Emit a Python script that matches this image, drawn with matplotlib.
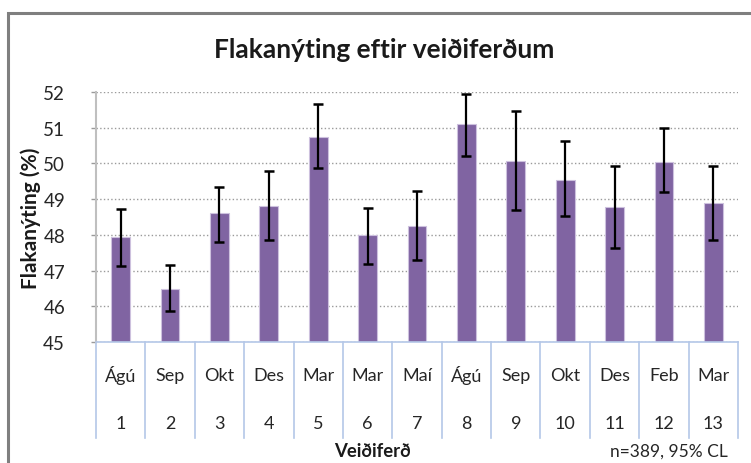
import matplotlib.pyplot as plt
import matplotlib.transforms as mtransforms
from matplotlib.patches import Rectangle

plt.rcParams['font.family'] = ['Lato', 'DejaVu Sans']

# Data
trips = ['1', '2', '3', '4', '5', '6', '7', '8', '9', '10', '11', '12', '13']
months = ['Ágú', 'Sep', 'Okt', 'Des', 'Mar', 'Mar', 'Maí', 'Ágú', 'Sep', 'Okt', 'Des', 'Feb', 'Mar']
yield_pct = [47.93, 46.49, 48.60, 48.80, 50.75, 47.99, 48.26, 51.09, 50.07, 49.53, 48.78, 50.05, 48.90]
ci_low = [47.12, 45.86, 47.80, 47.85, 49.86, 47.17, 47.30, 50.22, 48.70, 48.52, 47.64, 49.20, 47.86]
ci_high = [48.72, 47.15, 49.35, 49.80, 51.67, 48.76, 49.23, 51.94, 51.47, 50.62, 49.92, 50.98, 49.92]

x = list(range(1, len(trips) + 1))
err_lo = [v - lo for v, lo in zip(yield_pct, ci_low)]
err_hi = [hi - v for v, hi in zip(yield_pct, ci_high)]

W, H = 751, 464
fig = plt.figure(figsize=(W / 100, H / 100), dpi=100)

# outer chart frame (right/bottom edges fall outside the image)
fig.patches.append(Rectangle((8 / W, -0.05), 1.1, 1 - 14 / H + 0.05,
                             transform=fig.transFigure, fill=False,
                             edgecolor='#7f7f7f', linewidth=2.2))

left, right, top, bottom = 96, 738, 93, 343
ax = fig.add_axes([left / W, 1 - bottom / H, (right - left) / W, (bottom - top) / H])

ax.bar(x, [v - 45 for v in yield_pct], bottom=45, width=0.38,
       color='#8064a2', edgecolor='#cdc1de', linewidth=0.8, zorder=2)
ax.errorbar(x, yield_pct, yerr=[err_lo, err_hi], fmt='none', ecolor='black',
            elinewidth=1.6, capsize=3.5, capthick=1.8, zorder=3)

ax.set_xlim(0.5, len(trips) + 0.5)
ax.set_ylim(45, 52)
ax.set_yticks(range(45, 53))
ax.tick_params(axis='y', length=3.8, width=1, color='#9a9a9a', labelsize=13.5,
               labelcolor='#262626', pad=18.5)
ax.yaxis.grid(True, linestyle=':', color='#9a9a9a', linewidth=1)
ax.set_axisbelow(True)

for side in ['top', 'right']:
    ax.spines[side].set_visible(False)
ax.spines['left'].set_color('#bfbfbf')
ax.spines['left'].set_linewidth(1.5)
ax.spines['bottom'].set_color('#b4c7e7')
ax.spines['bottom'].set_linewidth(1.2)

# two-level category axis
ax.set_xticks([])
trans = mtransforms.blended_transform_factory(ax.transData, ax.transAxes)
h = bottom - top
for i, (m, t) in enumerate(zip(months, trips)):
    ax.text(x[i], -33 / h, m, transform=trans, ha='center', va='center',
            fontsize=13, color='#262626')
    ax.text(x[i], -81 / h, t, transform=trans, ha='center', va='center',
            fontsize=13, color='#262626')
for b in range(len(trips) + 1):
    ax.plot([b + 0.5, b + 0.5], [0, -96 / h], transform=trans, color='#b4c7e7',
            linewidth=1.2, clip_on=False)

fig.text(384 / W, 1 - 50 / H, 'Flakanýting eftir veiðiferðum', ha='center',
         va='center', fontsize=19, fontweight='bold', color='#1a1a1a')
fig.text(31 / W, 1 - 218 / H, 'Flakanýting (%)', rotation=90, ha='center',
         va='center', fontsize=15, fontweight='bold', color='#1a1a1a')
fig.text(372 / W, 1 - 452 / H, 'Veiðiferð', ha='center', va='center',
         fontsize=13.3, fontweight='bold', color='#1a1a1a')
fig.text(728 / W, 1 - 452 / H, 'n=389, 95% CL', ha='right', va='center',
         fontsize=12.5, color='#262626')

fig.savefig('out.png', dpi=100)
